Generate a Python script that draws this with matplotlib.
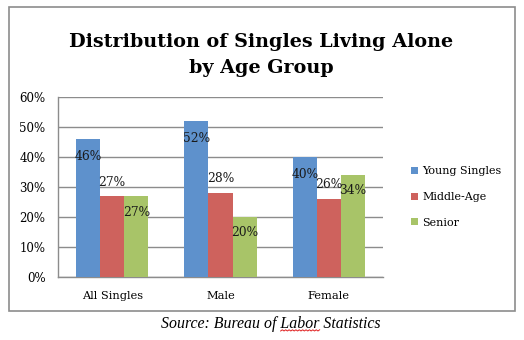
import matplotlib
matplotlib.use("Agg")
import matplotlib.pyplot as plt
import numpy as np
from matplotlib.patches import Rectangle, Patch
from matplotlib.lines import Line2D

# Data
categories = ["All Singles", "Male", "Female"]
series_names = ["Young Singles", "Middle-Age", "Senior"]
young = [46, 52, 40]
middle = [27, 28, 26]
senior = [27, 20, 34]
yticks = [0, 10, 20, 30, 40, 50, 60]

colors = ["#5E91CC", "#CE625D", "#A8C468"]
# vertical label offsets (pixels) relative to bar tops, per series
label_offsets = [-18, 14, -16]

serif = "DejaVu Serif"
W, H = 524, 340
fig = plt.figure(figsize=(W / 100, H / 100), dpi=100)

# outer frame of the chart
fig.patches.append(Rectangle((9 / W, 1 - 311 / H), 506 / W, 304 / H,
                             transform=fig.transFigure, fill=False,
                             edgecolor="#8c8c8c", linewidth=1.2))

ax = fig.add_axes([58 / W, 1 - 277 / H, 325 / W, 180 / H])
x = np.arange(len(categories))
bw = 0.222
for i, (vals, col) in enumerate(zip([young, middle, senior], colors)):
    pos = x + (i - 1) * bw
    ax.bar(pos, vals, width=bw, color=col, zorder=3)
    for px, v in zip(pos, vals):
        ax.annotate(f"{v}%", (px, v), xytext=(0, label_offsets[i] * 0.72),
                    textcoords="offset points", ha="center", va="center",
                    fontsize=8.8, family=serif, color="#1a1a1a", zorder=4)

ax.set_xlim(-0.5, 2.5)
ax.set_ylim(0, 60)
ax.set_yticks(yticks)
ax.set_yticklabels([f"{t}%" for t in yticks], family=serif, fontsize=8.5)
ax.set_xticks(x)
ax.set_xticklabels(categories, family=serif, fontsize=8.2)
ax.tick_params(axis="y", length=0, pad=9)
ax.tick_params(axis="x", length=0, pad=10)
ax.grid(axis="y", color="#8c8c8c", linewidth=1.0, zorder=0)
for s in ["top", "right"]:
    ax.spines[s].set_visible(False)
for s in ["left", "bottom"]:
    ax.spines[s].set_color("#8c8c8c")
    ax.spines[s].set_linewidth(1.0)

# title
fig.text(261 / W, 1 - 47 / H, "Distribution of Singles Living Alone",
         ha="center", va="baseline", fontsize=13.8, fontweight="bold", family=serif)
fig.text(261 / W, 1 - 73 / H, "by Age Group",
         ha="center", va="baseline", fontsize=13.8, fontweight="bold", family=serif)

# legend
handles = [Patch(facecolor=c, edgecolor="none") for c in colors]
fig.legend(handles, series_names, loc="center left",
           bbox_to_anchor=(401 / W, 1 - 197 / H), frameon=False,
           prop={"family": serif, "size": 8}, handlelength=0.6,
           handleheight=0.6, handletextpad=0.4, labelspacing=1.4)

# source line with spell-check underline under "Labor"
fs_src = 11.4
src = fig.text(271 / W, 1 - 328 / H, "Source: Bureau of Labor Statistics",
               ha="center", va="baseline", fontsize=fs_src, style="italic",
               family="Liberation Serif")
fig.canvas.draw()
r = fig.canvas.get_renderer()
bb = src.get_window_extent(r)
pre = fig.text(0, 0, "Source: Bureau of ", fontsize=fs_src, style="italic",
               family="Liberation Serif")
wpre = pre.get_window_extent(r).width
word = fig.text(0, 0, "Labor", fontsize=fs_src, style="italic",
                family="Liberation Serif")
wword = word.get_window_extent(r).width
pre.remove()
word.remove()
x0 = bb.x0 + wpre
xs = np.linspace(x0, x0 + wword, 24)
ys = (H - 331) + np.where(np.arange(24) % 2 == 0, 0.0, 1.2)
fig.add_artist(Line2D(xs / W, ys / H, transform=fig.transFigure,
                      color="#e02020", linewidth=0.7))

fig.savefig("out.png", dpi=100)
